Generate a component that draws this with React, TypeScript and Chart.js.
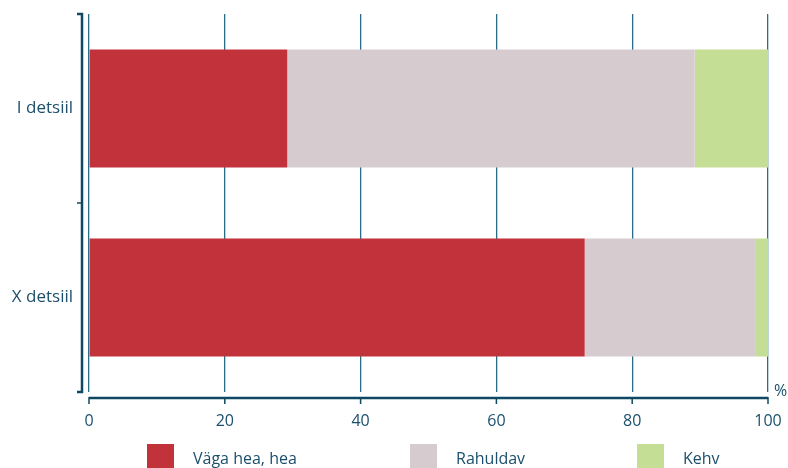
import React, { useEffect, useRef } from "react";
import { Chart, registerables } from "chart.js";

Chart.register(...registerables);

const categories = ["I detsiil", "X detsiil"];
const seriesLabels = ["Väga hea, hea", "Rahuldav", "Kehv"];
const vagaHea = [29.2, 73.0];
const rahuldav = [60.0, 25.1];
const kehv = [10.8, 1.9];
const xTickValues = [0, 20, 40, 60, 80, 100];
const unitLabel = "%";

const COLORS = ["#c1323a", "#d6cbcf", "#c5de96"];
const TEXT = "#1b4f6b";
const AXIS = "#0f4862";
const FONT = "'Open Sans', 'Noto Sans', sans-serif";

export default function App() {
  const ref = useRef<HTMLCanvasElement | null>(null);

  useEffect(() => {
    if (!ref.current) return;
    const decor = {
      id: "decor",
      afterDraw(chart: any) {
        const { ctx, chartArea } = chart;
        const xs = chart.scales.x;
        const ys = chart.scales.y;
        ctx.save();
        // y bracket
        const bx = chartArea.left - 7;
        ctx.strokeStyle = AXIS;
        ctx.lineWidth = 2.5;
        ctx.beginPath();
        ctx.moveTo(bx - 5, chartArea.top);
        ctx.lineTo(bx, chartArea.top);
        ctx.lineTo(bx, chartArea.bottom);
        ctx.lineTo(bx - 5, chartArea.bottom);
        ctx.stroke();
        for (let i = 0; i < categories.length - 1; i++) {
          const y = (ys.getPixelForValue(i) + ys.getPixelForValue(i + 1)) / 2;
          ctx.lineWidth = 1.5;
          ctx.beginPath();
          ctx.moveTo(bx - 5, y);
          ctx.lineTo(bx, y);
          ctx.stroke();
        }
        // x axis line
        const ay = chartArea.bottom + 6;
        ctx.lineWidth = 2.5;
        ctx.beginPath();
        ctx.moveTo(chartArea.left, ay);
        ctx.lineTo(chartArea.right, ay);
        ctx.stroke();
        ctx.lineWidth = 1.5;
        xTickValues.forEach((v) => {
          const x = xs.getPixelForValue(v);
          ctx.beginPath();
          ctx.moveTo(x, ay - 1);
          ctx.lineTo(x, ay + 6);
          ctx.stroke();
        });
        // unit
        ctx.fillStyle = TEXT;
        ctx.font = `16px ${FONT}`;
        ctx.textAlign = "left";
        ctx.textBaseline = "middle";
        ctx.fillText(unitLabel, chartArea.right + 6, chartArea.bottom - 1);
        // legend
        const lx = [147, 410, 637];
        ctx.font = `16px ${FONT}`;
        seriesLabels.forEach((lab, i) => {
          ctx.fillStyle = COLORS[i];
          ctx.fillRect(lx[i], 444, 27, 25);
          ctx.fillStyle = TEXT;
          ctx.textBaseline = "middle";
          ctx.fillText(lab, lx[i] + 46, 459);
        });
        ctx.restore();
      },
    };

    const chart = new Chart(ref.current, {
      type: "bar",
      data: {
        labels: categories,
        datasets: [
          { label: seriesLabels[0], data: vagaHea, backgroundColor: COLORS[0] },
          { label: seriesLabels[1], data: rahuldav, backgroundColor: COLORS[1] },
          { label: seriesLabels[2], data: kehv, backgroundColor: COLORS[2] },
        ],
      },
      options: {
        indexAxis: "y",
        responsive: false,
        animation: false,
        layout: { padding: { top: 14, right: 20, left: 0, bottom: 0 } },
        datasets: { bar: { barPercentage: 0.625, categoryPercentage: 1 } },
        plugins: { legend: { display: false }, tooltip: { enabled: false } },
        scales: {
          x: {
            stacked: true,
            min: 0,
            max: 100,
            afterFit: (s: any) => {
              s.height = 76;
              s.paddingLeft = 0;
              s.paddingRight = 0;
            },
            afterBuildTicks: (s: any) => { s.ticks = xTickValues.map((v) => ({ value: v })); },
            border: { display: false },
            grid: { color: "#2a6d88", lineWidth: 1.3, drawTicks: false },
            ticks: { color: TEXT, font: { family: FONT, size: 16 }, padding: 20 },
          },
          y: {
            stacked: true,
            afterFit: (s: any) => {
              s.width = 89;
              s.paddingTop = 0;
              s.paddingBottom = 0;
            },
            border: { display: false },
            grid: { display: false, drawTicks: false },
            ticks: { color: TEXT, font: { family: FONT, size: 17 }, padding: 16 },
          },
        },
      },
      plugins: [decor],
    } as any);
    return () => chart.destroy();
  }, []);

  return (
    <div style={{ position: "absolute", left: 0, top: 0, width: 788, height: 468 }}>
      <canvas ref={ref} width={788} height={468} style={{ display: "block" }} />
    </div>
  );
}
